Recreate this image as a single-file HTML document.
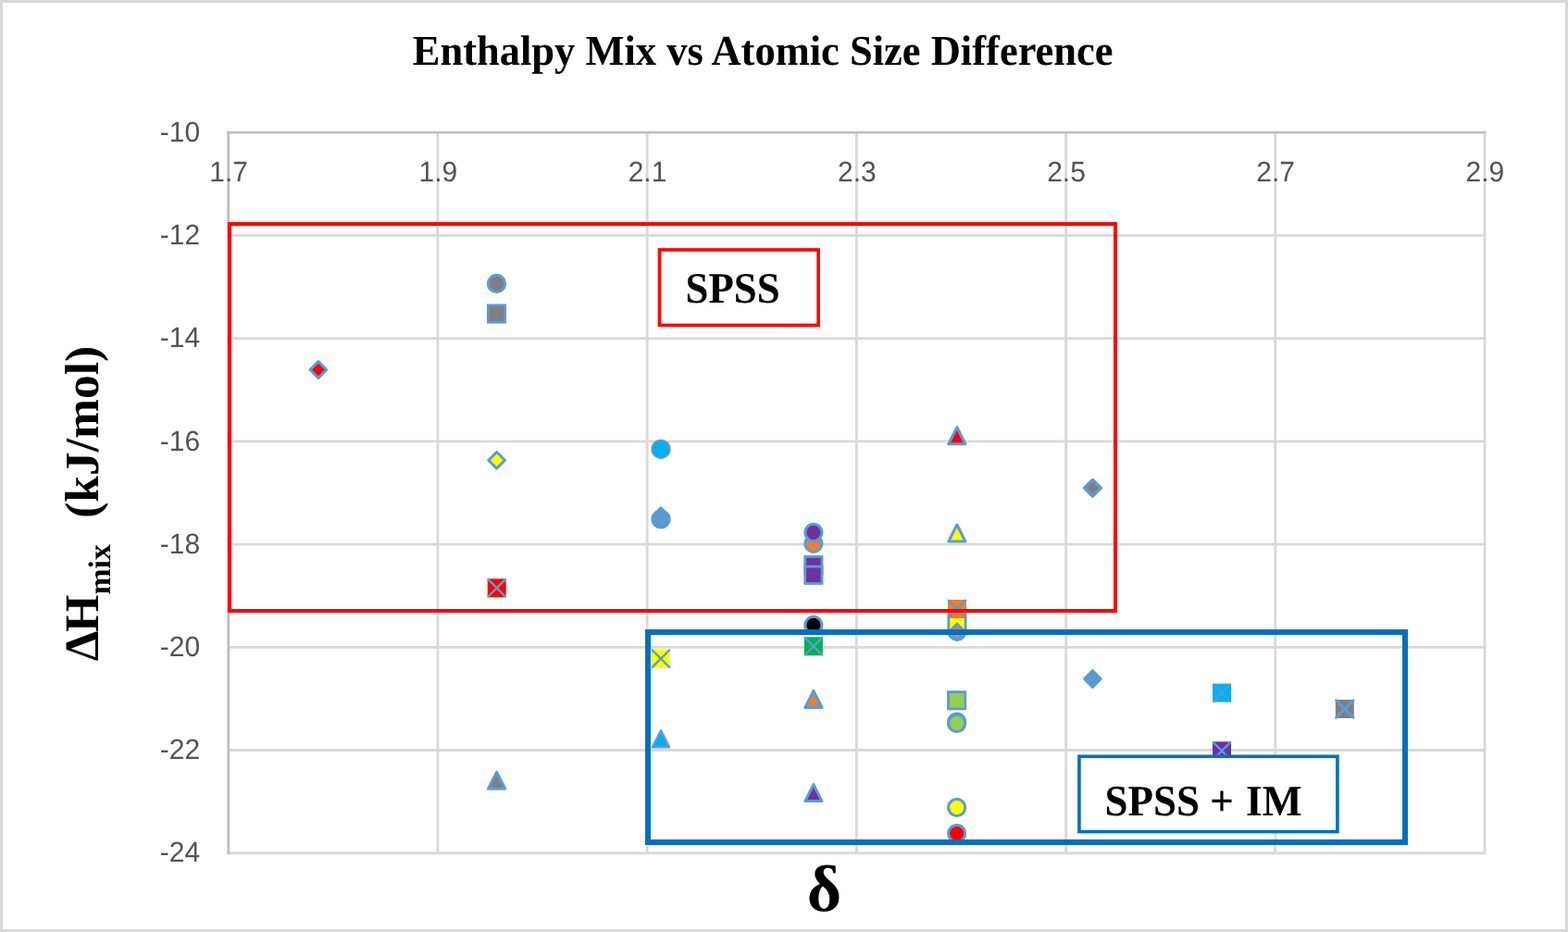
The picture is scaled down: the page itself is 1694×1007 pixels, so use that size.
<!DOCTYPE html>
<html lang="en"><head><meta charset="utf-8"><title>Enthalpy Mix vs Atomic Size Difference</title>
<style>
html,body{margin:0;padding:0;background:#fff;}
body{width:1694px;height:1007px;overflow:hidden;}
#chart{display:block;width:1694px;height:1007px;}
.ser{font-family:"Liberation Serif","DejaVu Serif",serif;font-weight:bold;fill:#000;text-rendering:geometricPrecision;}
.tick{font-family:"Liberation Sans","DejaVu Sans",sans-serif;font-size:30px;fill:#545454;text-rendering:geometricPrecision;}
</style></head><body>
<svg id="chart" width="1694" height="1007" viewBox="0 0 1694 1007">
<rect x="0" y="0" width="1694" height="1007" fill="#ffffff"/>
<rect x="1.5" y="1.5" width="1691" height="1004" fill="none" stroke="#D9D9D9" stroke-width="3"/>
<g stroke="#D9D9D9" stroke-width="2.8" fill="none">
<line x1="246.7" y1="254.42" x2="1605.32" y2="254.42"/>
<line x1="246.7" y1="365.64" x2="1605.32" y2="365.64"/>
<line x1="246.7" y1="476.86" x2="1605.32" y2="476.86"/>
<line x1="246.7" y1="588.08" x2="1605.32" y2="588.08"/>
<line x1="246.7" y1="699.30" x2="1605.32" y2="699.30"/>
<line x1="246.7" y1="810.52" x2="1605.32" y2="810.52"/>
<line x1="246.7" y1="921.74" x2="1605.32" y2="921.74"/>
<line x1="472.92" y1="143.2" x2="472.92" y2="923.04"/>
<line x1="699.14" y1="143.2" x2="699.14" y2="923.04"/>
<line x1="925.36" y1="143.2" x2="925.36" y2="923.04"/>
<line x1="1151.58" y1="143.2" x2="1151.58" y2="923.04"/>
<line x1="1377.80" y1="143.2" x2="1377.80" y2="923.04"/>
<line x1="1604.02" y1="143.2" x2="1604.02" y2="923.04"/>
</g>
<g stroke="#BFBFBF" stroke-width="2.8" fill="none">
<line x1="245.30" y1="143.2" x2="1605.32" y2="143.2"/>
<line x1="246.7" y1="141.80" x2="246.7" y2="923.04"/>
</g>
<g class="tick" text-anchor="end">
<text transform="translate(216.1 152.9) scale(1.0 1.025)">-10</text>
<text transform="translate(216.1 264.1) scale(1.0 1.025)">-12</text>
<text transform="translate(216.1 375.3) scale(1.0 1.025)">-14</text>
<text transform="translate(216.1 486.6) scale(1.0 1.025)">-16</text>
<text transform="translate(216.1 597.8) scale(1.0 1.025)">-18</text>
<text transform="translate(216.1 709.0) scale(1.0 1.025)">-20</text>
<text transform="translate(216.1 820.2) scale(1.0 1.025)">-22</text>
<text transform="translate(216.1 931.4) scale(1.0 1.025)">-24</text>
</g>
<g class="tick" text-anchor="middle">
<text transform="translate(247.1 196.4) scale(1.0 1.025)">1.7</text>
<text transform="translate(473.3 196.4) scale(1.0 1.025)">1.9</text>
<text transform="translate(699.5 196.4) scale(1.0 1.025)">2.1</text>
<text transform="translate(925.8 196.4) scale(1.0 1.025)">2.3</text>
<text transform="translate(1152.0 196.4) scale(1.0 1.025)">2.5</text>
<text transform="translate(1378.2 196.4) scale(1.0 1.025)">2.7</text>
<text transform="translate(1604.4 196.4) scale(1.0 1.025)">2.9</text>
</g>
<text class="ser" transform="translate(445.7 70.2) scale(1.004 1.034)" font-size="44.34">Enthalpy Mix vs Atomic Size Difference</text>
<g transform="translate(106.2 714.2) rotate(-90) scale(1 1.005)"><text class="ser" x="0" y="0" font-size="52">Δ<tspan dx="-1.3">H</tspan></text><text class="ser" x="71.6" y="12.6" font-size="33.8">mix</text><text class="ser" x="154.4" y="0" font-size="51.5">(kJ/mol)</text></g>
<text class="ser" transform="translate(871.8 984.4) scale(1 0.985)" font-size="72">δ</text>
<g>
<path d="M343.9 390.65L352.75 399.5L343.9 408.35L335.05 399.5Z" fill="#FF0000" stroke="#5B9BD5" stroke-width="3" stroke-linejoin="round"/>
<circle cx="536.5" cy="306.4" r="9.1" fill="#7F7F7F" stroke="#5B9BD5" stroke-width="3"/>
<rect x="527.35" y="329.85" width="18.3" height="18.3" fill="#7F7F7F" stroke="#5B9BD5" stroke-width="2.8"/>
<path d="M536.6 488.45L545.45 497.3L536.6 506.15L527.75 497.3Z" fill="#FFFF00" stroke="#5B9BD5" stroke-width="3" stroke-linejoin="round"/>
<rect x="526.70" y="625.30" width="20" height="20" fill="#FF0000"/><path d="M527.50 626.10L545.90 644.50M545.90 626.10L527.50 644.50" fill="none" stroke="#5B9BD5" stroke-width="2.4" stroke-linecap="round"/>
<path d="M536.6 834.30L545.70 852.30L527.50 852.30Z" fill="#7F7F7F" stroke="#5B9BD5" stroke-width="3" stroke-linejoin="round"/>
<circle cx="714" cy="485.3" r="9.7" fill="#00B0F0" stroke="#5B9BD5" stroke-width="1.9"/>
<path d="M714 548.85L722.85 557.7L714 566.55L705.15 557.7Z" fill="#5B9BD5" stroke="#5B9BD5" stroke-width="3" stroke-linejoin="round"/>
<circle cx="714" cy="561" r="9.1" fill="#5B9BD5" stroke="#5B9BD5" stroke-width="3"/>
<rect x="704.00" y="701.70" width="20" height="20" fill="#FFFF00"/><path d="M704.80 702.50L723.20 720.90M723.20 702.50L704.80 720.90" fill="none" stroke="#5B9BD5" stroke-width="2.4" stroke-linecap="round"/>
<path d="M714 789.30L723.10 807.30L704.90 807.30Z" fill="#00B0F0" stroke="#5B9BD5" stroke-width="2.4" stroke-linejoin="round"/>
<circle cx="878.9" cy="587.3" r="9.1" fill="#ED7D31" stroke="#5B9BD5" stroke-width="3"/>
<circle cx="878.9" cy="575.3" r="9.1" fill="#7030A0" stroke="#5B9BD5" stroke-width="3"/>
<rect x="869.75" y="601.45" width="18.3" height="18.3" fill="#7030A0" stroke="#5B9BD5" stroke-width="2.8"/>
<rect x="869.75" y="612.15" width="18.3" height="18.3" fill="#7030A0" stroke="#5B9BD5" stroke-width="2.8"/>
<circle cx="878.9" cy="675.4" r="9.1" fill="#000000" stroke="#5B9BD5" stroke-width="3"/>
<rect x="868.90" y="688.30" width="20" height="20" fill="#00B050"/><path d="M869.70 689.10L888.10 707.50M888.10 689.10L869.70 707.50" fill="none" stroke="#5B9BD5" stroke-width="2.4" stroke-linecap="round"/>
<path d="M878.9 746.40L888.00 764.40L869.80 764.40Z" fill="#ED7D31" stroke="#5B9BD5" stroke-width="3" stroke-linejoin="round"/>
<path d="M878.9 847.60L888.00 865.60L869.80 865.60Z" fill="#7030A0" stroke="#5B9BD5" stroke-width="3" stroke-linejoin="round"/>
<path d="M1033.9 461.70L1043.00 479.70L1024.80 479.70Z" fill="#FF0000" stroke="#5B9BD5" stroke-width="3" stroke-linejoin="round"/>
<path d="M1033.9 567.00L1043.00 585.00L1024.80 585.00Z" fill="#FFFF00" stroke="#5B9BD5" stroke-width="3" stroke-linejoin="round"/>
<circle cx="1034" cy="682.2" r="9.1" fill="#5B9BD5" stroke="#5B9BD5" stroke-width="3"/>
<rect x="1024.85" y="664.35" width="18.3" height="18.3" fill="#FFFF00" stroke="#5B9BD5" stroke-width="2.8"/>
<path d="M1034 674.20L1042.70 682.9L1034 691.60L1025.30 682.9Z" fill="#ED7D31" stroke="#5B9BD5" stroke-width="3" stroke-linejoin="round"/>
<rect x="1024.00" y="648.00" width="20" height="20" fill="#ED7D31"/><path d="M1024.80 648.80L1043.20 667.20M1043.20 648.80L1024.80 667.20" fill="none" stroke="#5B9BD5" stroke-width="2.4" stroke-linecap="round"/>
<rect x="1024.45" y="747.65" width="18.3" height="18.3" fill="#92D050" stroke="#5B9BD5" stroke-width="2.8"/>
<circle cx="1033.7" cy="780.0" r="9.1" fill="#92D050" stroke="#5B9BD5" stroke-width="3"/>
<circle cx="1033.7" cy="781.4" r="9.1" fill="#92D050" stroke="#5B9BD5" stroke-width="3"/>
<circle cx="1033.7" cy="872.5" r="9.1" fill="#FFFF00" stroke="#5B9BD5" stroke-width="3"/>
<circle cx="1033.7" cy="900.5" r="9.1" fill="#FF0000" stroke="#5B9BD5" stroke-width="3"/>
<path d="M1180.4 518.45L1189.25 527.3L1180.4 536.15L1171.55 527.3Z" fill="#7F7F7F" stroke="#5B9BD5" stroke-width="3.4" stroke-linejoin="round"/>
<path d="M1180.4 724.65L1189.25 733.5L1180.4 742.35L1171.55 733.5Z" fill="#5B9BD5" stroke="#5B9BD5" stroke-width="3" stroke-linejoin="round"/>
<rect x="1310.00" y="738.60" width="20" height="20" fill="#00B0F0"/><path d="M1310.80 739.40L1329.20 757.80M1329.20 739.40L1310.80 757.80" fill="none" stroke="#5B9BD5" stroke-width="1.8" stroke-linecap="round"/>
<rect x="1310.00" y="801.30" width="20" height="20" fill="#7030A0"/><path d="M1310.80 802.10L1329.20 820.50M1329.20 802.10L1310.80 820.50" fill="none" stroke="#5B9BD5" stroke-width="2.4" stroke-linecap="round"/>
<rect x="1442.80" y="756.00" width="20" height="20" fill="#7F7F7F"/><path d="M1443.60 756.80L1462.00 775.20M1462.00 756.80L1443.60 775.20" fill="none" stroke="#5B9BD5" stroke-width="3" stroke-linecap="round"/>
</g>
<rect x="248" y="242" width="957" height="418" fill="none" stroke="#FF0000" stroke-width="4"/>
<rect x="700" y="683" width="818" height="227" fill="none" stroke="#0070C0" stroke-width="6"/>
<rect x="712.5" y="269.9" width="171.6" height="81.5" fill="#ffffff" stroke="#FF0000" stroke-width="3.6"/>
<text class="ser" transform="translate(740.6 327.1) scale(0.988 1.035)" font-size="45.3">SPSS</text>
<rect x="1165.9" y="817.3" width="279" height="81.3" fill="#ffffff" stroke="#0070C0" stroke-width="3.6"/>
<text class="ser" transform="translate(1193.6 880.6) scale(1 1.035)" font-size="45.5"><tspan textLength="102.5" lengthAdjust="spacingAndGlyphs">SPSS</tspan><tspan x="113.4">+</tspan><tspan x="152.5">IM</tspan></text>
</svg></body></html>
